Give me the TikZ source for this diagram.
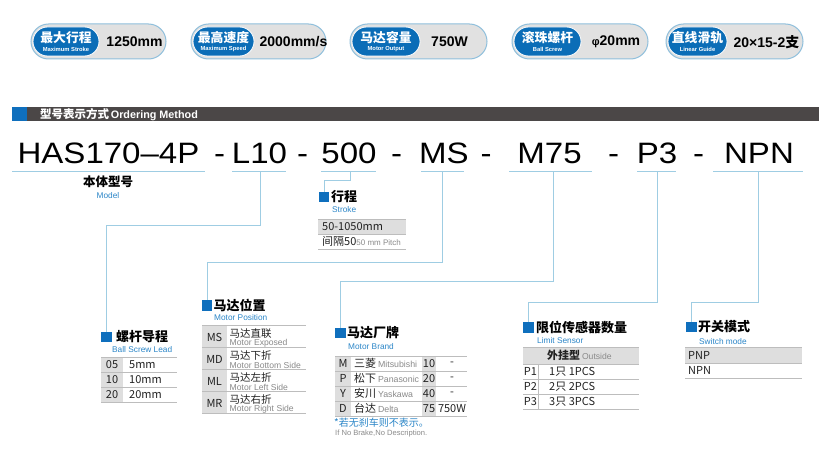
\documentclass[tikz,border=0pt]{standalone}
\usepackage{fontspec}
\setmainfont{Liberation Sans}
\newfontfamily\cjk{Noto Sans CJK SC}
\newfontfamily\codefont{Liberation Sans}[FakeStretch=1.12]
\newcommand\fsz[1]{\fontsize{#1pt}{#1pt}\selectfont}
\definecolor{pillgrey}{HTML}{E1E1E1}
\definecolor{pillborder}{HTML}{8FBFDC}
\definecolor{pillblue}{HTML}{0B6DB7}
\definecolor{hdrdark}{HTML}{4B4747}
\definecolor{sqblue}{HTML}{0F6FBD}
\definecolor{subblue}{HTML}{2B86C8}
\definecolor{connblue}{HTML}{9FCDE3}
\definecolor{tgrey}{HTML}{DEDEDE}
\definecolor{tlinecol}{HTML}{BDBDBD}
\definecolor{greytext}{HTML}{8A8A8A}
\definecolor{textdark}{HTML}{222222}
\tikzset{
 outerpill/.style={draw=pillborder, line width=1pt, fill=pillgrey, rounded corners=17.5pt, minimum height=35pt, inner sep=0pt},
 innerpill/.style={draw=white, line width=0.8pt, fill=pillblue, rounded corners=14.5pt, minimum height=29pt, inner sep=0pt},
 pilltitle/.style={inner sep=0pt, text=white, font=\cjk\bfseries\fsz{12.8}},
 pillsub/.style={inner sep=0pt, text=white, font=\bfseries\fsz{5.8}},
 pillval/.style={inner sep=0pt, text=black, font=\bfseries\fsz{14}},
 codetxt/.style={inner sep=0pt, anchor=base, font=\codefont\fsz{29.5}},
 uline/.style={draw=connblue, line width=1pt},
 conn/.style={draw=connblue, line width=1pt},
 bluesq/.style={fill=sqblue, minimum size=10.5pt, inner sep=0pt},
 blocktitle/.style={anchor=west, inner sep=0pt, font=\cjk\bfseries\fsz{13}},
 blocksub/.style={anchor=west, inner sep=0pt, text=subblue, font=\fsz{8.3}},
 tabcell/.style={inner sep=0pt, font=\cjk\fsz{11}, text=textdark},
 tabcellw/.style={tabcell, anchor=west},
 tabeng/.style={inner sep=0pt, anchor=west, font=\fsz{8.6}, text=greytext},
 tline/.style={draw=tlinecol, line width=0.8pt},
}
\begin{document}
\begin{tikzpicture}[x=1pt,y=-1pt]
\useasboundingbox[fill=white] (0,0) rectangle (835,452);

% ---------- badges ----------
\node[outerpill, minimum width=135pt] (b1) at (98.5,41.5) {};
\node[innerpill, minimum width=66pt] (b1i) at (66,41.5) {};
\node[pilltitle] (b1c) at (66,37.5) {最大行程};
\node[pillsub] (b1e) at (66,49) {Maximum Stroke};
\node[pillval] (b1v) at (134.5,42) {1250mm};

\node[outerpill, minimum width=135pt] (b2) at (258.5,41.5) {};
\node[innerpill, minimum width=61pt] (b2i) at (223.5,41.5) {};
\node[pilltitle] (b2c) at (223.5,37.5) {最高速度};
\node[pillsub] (b2e) at (223.5,49) {Maximum Speed};
\node[pillval] (b2v) at (293.5,42) {2000mm/s};

\node[outerpill, minimum width=137pt] (b3) at (418.5,41.5) {};
\node[innerpill, minimum width=68pt] (b3i) at (386,41.5) {};
\node[pilltitle] (b3c) at (386,37.5) {马达容量};
\node[pillsub] (b3e) at (386,49) {Motor Output};
\node[pillval] (b3v) at (449.5,42) {750W};

\node[outerpill, minimum width=136pt] (b4) at (580,41.5) {};
\node[innerpill, minimum width=67pt] (b4i) at (547.5,41.5) {};
\node[pilltitle] (b4c) at (547.5,37.5) {滚珠螺杆};
\node[pillsub] (b4e) at (547.5,49) {Ball Screw};
\node[pillval] (b4v) at (616,42) {{\fsz{11}φ}20mm};

\node[outerpill, minimum width=137pt] (b5) at (734.5,41.5) {};
\node[innerpill, minimum width=59pt] (b5i) at (697.5,41.5) {};
\node[pilltitle] (b5c) at (697.5,37.5) {直线滑轨};
\node[pillsub] (b5e) at (697.5,49) {Linear Guide};
\node[pillval] (b5v) at (766.5,42) {20×15-2{\cjk 支}};

% ---------- header bar ----------
\fill[sqblue] (12,107) rectangle (27,121);
\fill[hdrdark] (27,107) rectangle (819,121);
\node[anchor=west, inner sep=0pt, text=white] (hdr) at (40,114.3)
  {{\cjk\bfseries\fsz{11.5}型号表示方式}\,{\bfseries\fsz{10.8}Ordering Method}};

% ---------- model code ----------
\node[codetxt] (c1) at (108.5,163) {HAS170–4P};
\node[codetxt] (d1) at (219.5,163) {-};
\node[codetxt] (c2) at (259.5,163) {L10};
\node[codetxt] (d2) at (302.5,163) {-};
\node[codetxt] (c3) at (349,163) {500};
\node[codetxt] (d3) at (396.5,163) {-};
\node[codetxt] (c4) at (444,163) {MS};
\node[codetxt] (d4) at (486,163) {-};
\node[codetxt] (c5) at (549.5,163) {M75};
\node[codetxt] (d5) at (613.5,163) {-};
\node[codetxt] (c6) at (657,163) {P3};
\node[codetxt] (d6) at (698.5,163) {-};
\node[codetxt] (c7) at (759,163) {NPN};

% underlines
\draw[uline] (12,171) -- (205,171);
\draw[uline] (232,171) -- (286,171);
\draw[uline] (321,171) -- (376,171);
\draw[uline] (421,171) -- (464,171);
\draw[uline] (509,171) -- (592,171);
\draw[uline] (637,171) -- (676,171);
\draw[uline] (713,171) -- (803,171);

\coordinate (s2) at (260,171);   \coordinate (k2) at (260,225);
\coordinate (s3) at (350,171);   \coordinate (k3) at (350,180);
\coordinate (s4) at (442.5,171); \coordinate (k4) at (442.5,262);
\coordinate (s5) at (553,171);   \coordinate (k5) at (553,281);
\coordinate (s6) at (657,171);   \coordinate (k6) at (657,302);
\coordinate (s7) at (758,171);   \coordinate (k7) at (758,302);

% model label
\node[inner sep=0pt, font=\cjk\bfseries\fsz{12.5}] (mdl) at (108,182) {本体型号};
\node[inner sep=0pt, text=subblue, font=\fsz{8.3}] (mdle) at (108,195.5) {Model};

% ---------- squares ----------
\node[bluesq] (sqA) at (106.5,337) {};
\node[bluesq] (sqB) at (324,197) {};
\node[bluesq] (sqC) at (207,305.5) {};
\node[bluesq] (sqD) at (340.5,333) {};
\node[bluesq] (sqE) at (528.5,327.5) {};
\node[bluesq] (sqF) at (691.5,327) {};

% connectors
\draw[conn] (s2) -- (k2) -| (sqA.north);
\draw[conn] (s3) -- (k3) -| (sqB.north);
\draw[conn] (s4) -- (k4) -| (sqC.north);
\draw[conn] (s5) -- (k5) -| (sqD.north);
\draw[conn] (s6) -- (k6) -| (sqE.north);
\draw[conn] (s7) -- (k7) -| (sqF.north);

% titles
\node[blocktitle] (tA) at (116,337) {螺杆导程};
\node[blocksub] (eA) at (112,349.5) {Ball Screw Lead};
\node[blocktitle] (tB) at (331,197) {行程};
\node[blocksub] (eB) at (332,210) {Stroke};
\node[blocktitle] (tC) at (213.5,305.5) {马达位置};
\node[blocksub] (eC) at (214,317.5) {Motor Position};
\node[blocktitle] (tD) at (347,333) {马达厂牌};
\node[blocksub] (eD) at (348,347) {Motor Brand};
\node[blocktitle] (tE) at (536,327.5) {限位传感器数量};
\node[blocksub] (eE) at (537,340.5) {Limit Sensor};
\node[blocktitle] (tF) at (698,327) {开关模式};
\node[blocksub] (eF) at (699,341.5) {Switch mode};

% ---------- stroke table ----------
\fill[tgrey] (318,219) rectangle (406,234);
\foreach \yy in {219,234,249} \draw[tline] (318,\yy) -- (406,\yy);
\node[tabcellw] (st1) at (322,226.5) {50-1050mm};
\node[tabcellw] (st2) at (322,241.5) {间隔50{\rmfamily\fsz{8}\color{greytext}50 mm Pitch}};

% ---------- ball screw lead table ----------
\fill[tgrey] (101,357) rectangle (123,402);
\foreach \yy in {357,372,387,402} \draw[tline] (101,\yy) -- (177,\yy);
\node[tabcell] (la1) at (112,364.5) {05};
\node[tabcellw] (lb1) at (129,364.5) {5mm};
\node[tabcell] (la2) at (112,379.5) {10};
\node[tabcellw] (lb2) at (129,379.5) {10mm};
\node[tabcell] (la3) at (112,394.5) {20};
\node[tabcellw] (lb3) at (129,394.5) {20mm};

% ---------- motor position table ----------
\fill[tgrey] (202,325) rectangle (227,413);
\foreach \yy in {325,347,369,391,413} \draw[tline] (202,\yy) -- (306,\yy);
\node[tabcell] (pa1) at (214.5,337) {MS};
\node[tabcellw, font=\cjk\fsz{10.5}] (pb1) at (229.5,333.5) {马达直联};
\node[tabeng] (pc1) at (229.5,343) {Motor Exposed};
\node[tabcell] (pa2) at (214.5,359) {MD};
\node[tabcellw, font=\cjk\fsz{10.5}] (pb2) at (229.5,355.5) {马达下折};
\node[tabeng] (pc2) at (229.5,365) {Motor Bottom Side};
\node[tabcell] (pa3) at (214.5,381) {ML};
\node[tabcellw, font=\cjk\fsz{10.5}] (pb3) at (229.5,377.5) {马达左折};
\node[tabeng] (pc3) at (229.5,387) {Motor Left Side};
\node[tabcell] (pa4) at (214.5,403) {MR};
\node[tabcellw, font=\cjk\fsz{10.5}] (pb4) at (229.5,399.5) {马达右折};
\node[tabeng] (pc4) at (229.5,409) {Motor Right Side};

% ---------- motor brand table ----------
\fill[tgrey] (335,356) rectangle (351,416);
\fill[tgrey] (422,356) rectangle (436,416);
\foreach \yy in {356,371,386,401,416} \draw[tline] (335,\yy) -- (467,\yy);
\node[tabcell] (ma1) at (343,363.5) {M};
\node[tabcellw] (mb1) at (354,363.5) {三菱\,{\rmfamily\fsz{8.8}\color{greytext}Mitsubishi}};
\node[tabcell] (mc1) at (429,363.5) {10};
\node[tabcell] (md1) at (452,363.5) {-};
\node[tabcell] (ma2) at (343,378.5) {P};
\node[tabcellw] (mb2) at (354,378.5) {松下\,{\rmfamily\fsz{8.8}\color{greytext}Panasonic}};
\node[tabcell] (mc2) at (429,378.5) {20};
\node[tabcell] (md2) at (452,378.5) {-};
\node[tabcell] (ma3) at (343,393.5) {Y};
\node[tabcellw] (mb3) at (354,393.5) {安川\,{\rmfamily\fsz{8.8}\color{greytext}Yaskawa}};
\node[tabcell] (mc3) at (429,393.5) {40};
\node[tabcell] (md3) at (452,393.5) {-};
\node[tabcell] (ma4) at (343,408.5) {D};
\node[tabcellw] (mb4) at (354,408.5) {台达\,{\rmfamily\fsz{8.8}\color{greytext}Delta}};
\node[tabcell] (mc4) at (429,408.5) {75};
\node[tabcell] (md4) at (452,408.5) {750W};
\node[anchor=west, inner sep=0pt, text=subblue, font=\cjk\fsz{10}] (note1) at (334,422.5) {*若无刹车则不表示。};
\node[anchor=west, inner sep=0pt, text=greytext, font=\fsz{7.6}] (note2) at (335,433.5) {If No Brake,No Description.};

% ---------- limit sensor table ----------
\fill[tgrey] (523,347) rectangle (639,364);
\foreach \yy in {347,364,379,394,409} \draw[tline] (523,\yy) -- (639,\yy);
\draw[tline] (538,364) -- (538,409);
\node[tabcellw] (lh) at (547,355.5) {{\bfseries 外挂型}\,{\rmfamily\fsz{8.6}\color{greytext}Outside}};
\node[tabcell] (sa1) at (530.5,371.5) {P1};
\node[tabcellw] (sb1) at (549,371.5) {1只 1PCS};
\node[tabcell] (sa2) at (530.5,386.5) {P2};
\node[tabcellw] (sb2) at (549,386.5) {2只 2PCS};
\node[tabcell] (sa3) at (530.5,401.5) {P3};
\node[tabcellw] (sb3) at (549,401.5) {3只 3PCS};

% ---------- switch mode table ----------
\fill[tgrey] (685,347) rectangle (802,363);
\foreach \yy in {347,363,378} \draw[tline] (685,\yy) -- (802,\yy);
\node[tabcellw] (w1) at (688,355) {PNP};
\node[tabcellw] (w2) at (688,370.5) {NPN};
\end{tikzpicture}
\end{document}
